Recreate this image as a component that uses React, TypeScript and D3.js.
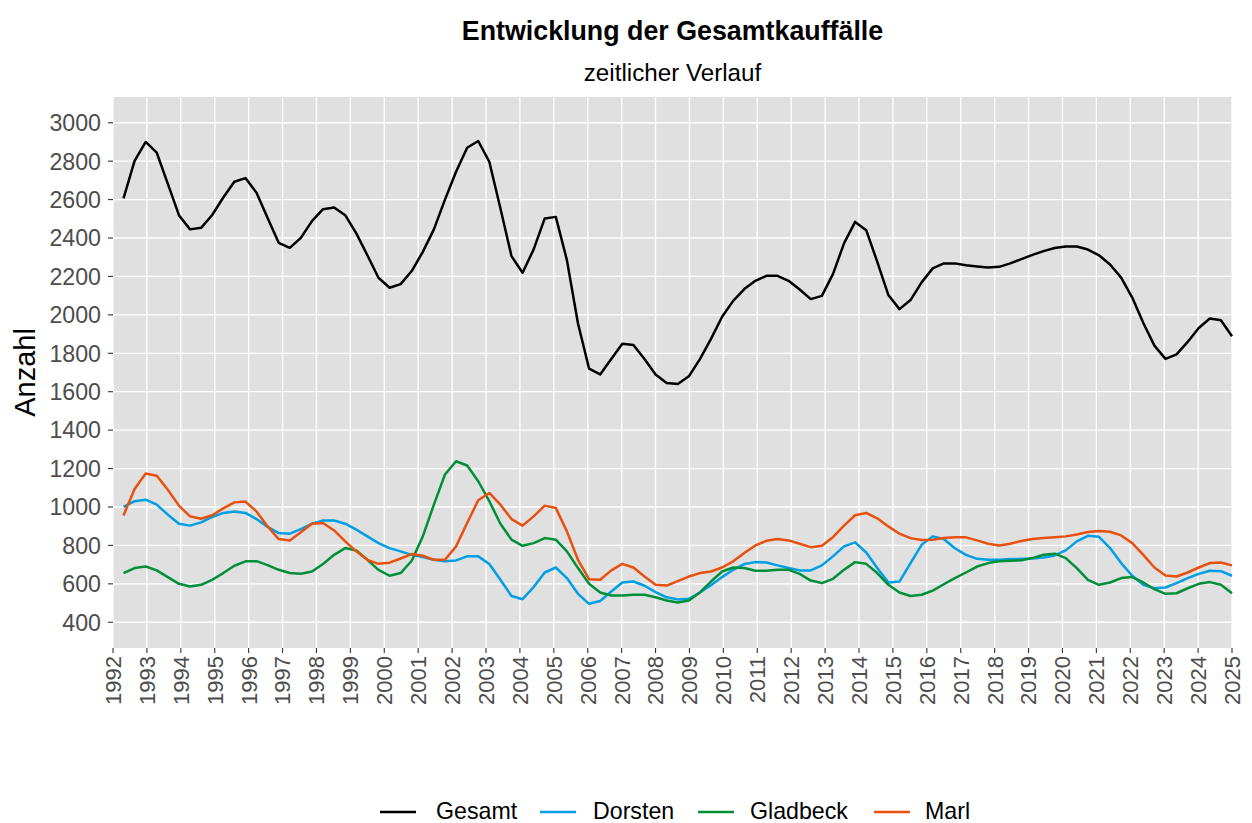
import React from "react";
import * as d3 from "d3";

// Sampling grid of the smoothed series (101 evenly spaced time points)
const T_START = 1992.31;
const T_END = 2025.0;
const N_POINTS = 101;
const times = d3.range(N_POINTS).map((i) => T_START + (i * (T_END - T_START)) / (N_POINTS - 1));

const gesamt = [
  2606, 2802, 2900, 2844, 2682, 2519, 2445, 2453, 2520, 2611, 2693, 2712, 2635, 2504, 2375, 2349, 2401, 2488, 2550, 2559,
  2519, 2424, 2310, 2193, 2141, 2160, 2228, 2328, 2445, 2600, 2745, 2870, 2905, 2797, 2555, 2306, 2219, 2341, 2502, 2510,
  2285, 1955, 1720, 1690, 1770, 1850, 1843, 1770, 1690, 1645, 1640, 1680, 1770, 1875, 1990, 2073, 2134, 2177, 2203, 2203,
  2177, 2132, 2082, 2099, 2212, 2372, 2484, 2441, 2276, 2103, 2030, 2077, 2169, 2242, 2268, 2268, 2258, 2252, 2246, 2250,
  2268, 2290, 2312, 2332, 2348, 2356, 2356, 2340, 2310, 2262, 2194, 2090, 1958, 1840, 1771, 1794, 1859, 1932, 1981, 1972,
  1889,
];
const dorsten = [
  1000, 1030, 1038, 1012, 960, 913, 903, 920, 948, 969, 977, 969, 937, 896, 864, 861, 885, 913, 930, 930,
  913, 882, 847, 812, 786, 769, 751, 739, 725, 717, 722, 743, 743, 703, 621, 537, 520, 583, 659, 685,
  630, 548, 496, 511, 560, 607, 612, 590, 557, 530, 519, 522, 555, 593, 635, 673, 703, 713, 711, 696,
  682, 670, 670, 696, 743, 795, 816, 763, 682, 607, 612, 708, 803, 847, 833, 785, 751, 730, 725, 725,
  729, 730, 732, 737, 748, 774, 821, 850, 845, 786, 708, 642, 595, 577, 581, 604, 630, 652, 668, 666,
  642,
];
const gladbeck = [
  656, 682, 690, 670, 635, 600, 586, 595, 621, 656, 694, 717, 718, 697, 673, 656, 652, 664, 703, 751,
  786, 774, 725, 673, 642, 656, 720, 847, 1012, 1169, 1238, 1216, 1134, 1030, 913, 830, 798, 812, 838, 830,
  769, 682, 600, 555, 539, 539, 543, 543, 530, 513, 503, 513, 555, 612, 664, 685, 682, 668, 668, 673,
  673, 652, 617, 604, 626, 673, 713, 704, 656, 595, 555, 537, 543, 565, 598, 630, 659, 690, 708, 717,
  720, 723, 734, 751, 757, 734, 682, 621, 595, 607, 630, 635, 607, 572, 548, 551, 577, 600, 609, 595,
  551,
];
const marl = [
  956, 1094, 1174, 1163, 1090, 1007, 951, 939, 957, 993, 1024, 1028, 977, 899, 833, 826, 868, 913, 917, 878,
  821, 769, 725, 704, 710, 732, 755, 746, 725, 725, 795, 917, 1035, 1073, 1012, 937, 903, 951, 1007, 995,
  873, 725, 624, 621, 670, 704, 685, 638, 595, 591, 614, 638, 656, 664, 685, 717, 760, 800, 824, 833,
  826, 809, 791, 798, 843, 903, 957, 969, 941, 899, 861, 838, 828, 830, 838, 843, 842, 826, 809, 800,
  809, 823, 833, 838, 842, 847, 857, 870, 875, 871, 852, 812, 751, 685, 643, 638, 659, 685, 708, 711,
  696,
];

const seriesNames = ["Gesamt", "Dorsten", "Gladbeck", "Marl"];
const seriesColors = ["#000000", "#009fe3", "#008f39", "#e9500e"];
const seriesValues = [gesamt, dorsten, gladbeck, marl];

const yTicks = d3.range(400, 3001, 200);
const xTicks = d3.range(1992, 2026, 1);

const titleText = "Entwicklung der Gesamtkauffälle";
const subtitleText = "zeitlicher Verlauf";
const yTitle = "Anzahl";

const W = 1252;
const H = 823;
const panel = { left: 113, right: 1232, top: 97, bottom: 648 };
const FONT = "'Liberation Sans', Arial, Helvetica, sans-serif";

export default function App() {
  const x = d3.scaleLinear().domain([1992, 2025]).range([panel.left, panel.right]);
  const y = d3.scaleLinear().domain([266, 3134]).range([panel.bottom, panel.top]);

  const line = d3
    .line<number>()
    .x((_, i) => x(times[i]))
    .y((d) => y(d));

  // legend layout
  const legendY = 811;
  const legendItems = [
    { key: 380, text: 436 },
    { key: 540, text: 593 },
    { key: 698, text: 750 },
    { key: 874, text: 925 },
  ];

  return (
    <svg
      width={W}
      height={H}
      style={{ position: "absolute", left: 0, top: 0, background: "#ffffff" }}
      fontFamily={FONT}
    >
      <rect x={0} y={0} width={W} height={H} fill="#ffffff" />
      {/* titles */}
      <text x={(panel.left + panel.right) / 2} y={39.5} textAnchor="middle" fontSize={26.8} fontWeight="bold" fill="#000">
        {titleText}
      </text>
      <text x={(panel.left + panel.right) / 2} y={80.5} textAnchor="middle" fontSize={24.2} fill="#000">
        {subtitleText}
      </text>

      {/* panel */}
      <rect
        x={panel.left}
        y={panel.top}
        width={panel.right - panel.left}
        height={panel.bottom - panel.top}
        fill="#e0e0e0"
      />
      {yTicks.map((t) => (
        <line key={"gy" + t} x1={panel.left} x2={panel.right} y1={y(t)} y2={y(t)} stroke="#ffffff" strokeWidth={1.3} />
      ))}
      {xTicks.map((t) => (
        <line key={"gx" + t} x1={x(t)} x2={x(t)} y1={panel.top} y2={panel.bottom} stroke="#ffffff" strokeWidth={1.3} />
      ))}

      {/* series */}
      {seriesValues.map((vals, k) => (
        <path
          key={seriesNames[k]}
          d={line(vals) || ""}
          fill="none"
          stroke={seriesColors[k]}
          strokeWidth={2.5}
          strokeLinejoin="round"
        />
      ))}

      {/* y axis */}
      {yTicks.map((t) => (
        <g key={"ty" + t}>
          <line x1={panel.left - 5} x2={panel.left} y1={y(t)} y2={y(t)} stroke="#333333" strokeWidth={1.1} />
          <text x={panel.left - 12} y={y(t)} dy="0.36em" textAnchor="end" fontSize={23.2} fill="#4d4d4d">
            {t}
          </text>
        </g>
      ))}
      {/* x axis */}
      {xTicks.map((t) => (
        <g key={"tx" + t}>
          <line x1={x(t)} x2={x(t)} y1={panel.bottom} y2={panel.bottom + 5} stroke="#333333" strokeWidth={1.1} />
          <text
            transform={`translate(${x(t)},${panel.bottom + 8}) rotate(-90)`}
            dy="0.36em"
            textAnchor="end"
            fontSize={22}
            fill="#4d4d4d"
          >
            {t}
          </text>
        </g>
      ))}
      <text
        transform={`translate(35,${(panel.top + panel.bottom) / 2}) rotate(-90)`}
        textAnchor="middle"
        fontSize={29}
        fill="#000"
      >
        {yTitle}
      </text>

      {/* legend */}
      {seriesNames.map((name, k) => (
        <g key={"lg" + name}>
          <line
            x1={legendItems[k].key}
            x2={legendItems[k].key + 36}
            y1={legendY + 1}
            y2={legendY + 1}
            stroke={seriesColors[k]}
            strokeWidth={2.5}
          />
          <text x={legendItems[k].text} y={legendY} dy="0.36em" fontSize={23.2} fill="#000">
            {name}
          </text>
        </g>
      ))}
    </svg>
  );
}
